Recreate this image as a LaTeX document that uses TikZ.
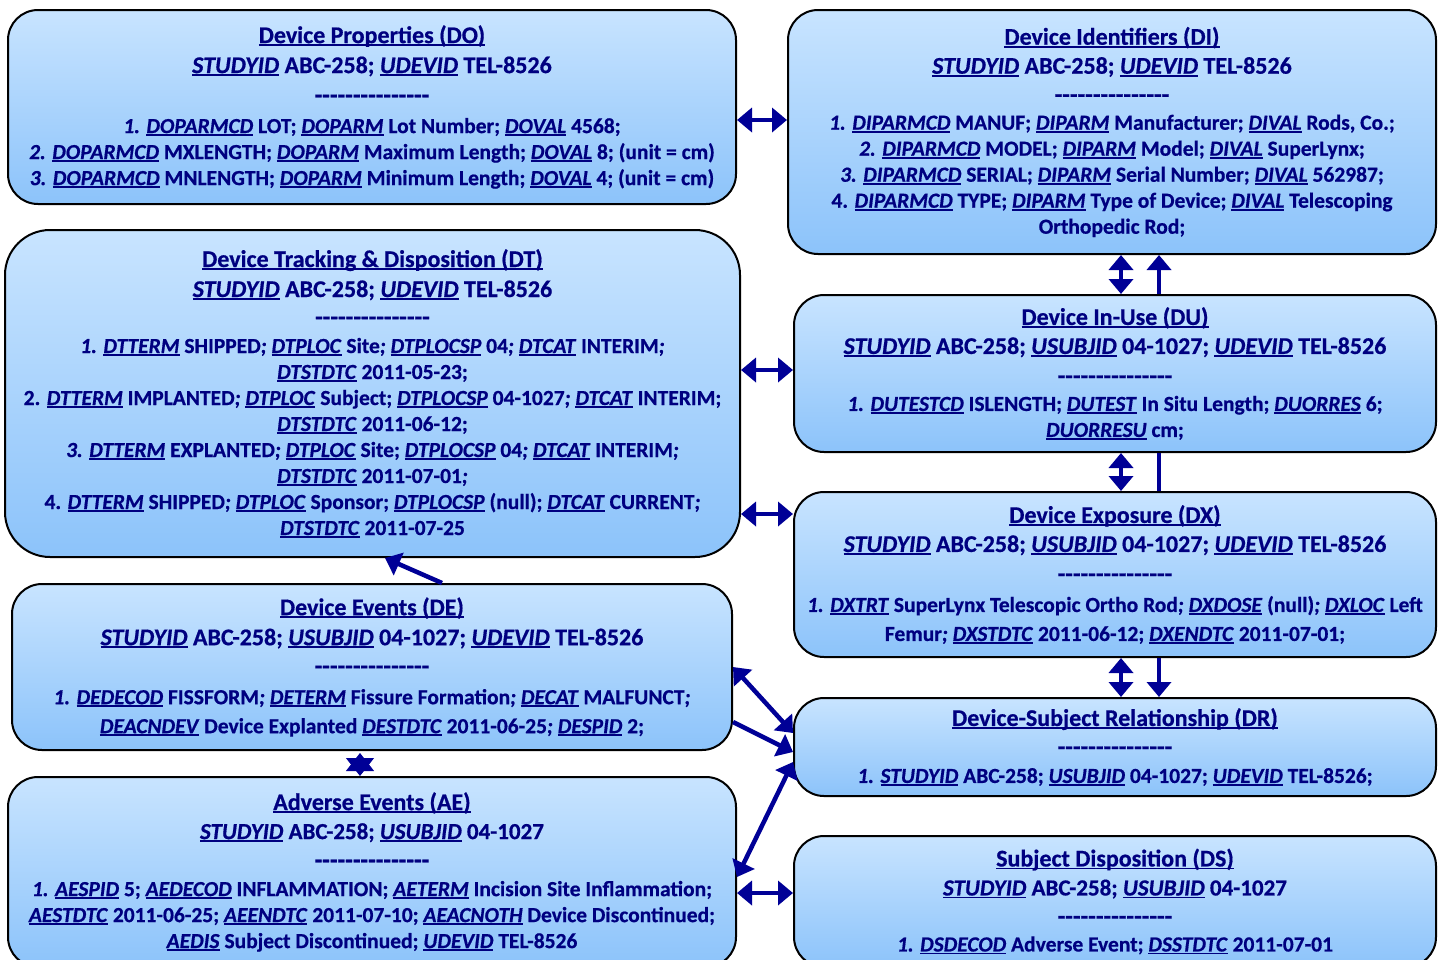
\documentclass[tikz,border=0pt]{standalone}
\usepackage{fontspec}
\setmainfont{Carlito}[BoldFeatures={FakeBold=0.6},BoldItalicFeatures={FakeBold=0.6}]
\usepackage{xcolor}
\usepackage{tikz}
\usetikzlibrary{arrows.meta}

\definecolor{tabtext}{RGB}{0,0,128}
\definecolor{linkblue}{RGB}{0,0,150}
\definecolor{boxtop}{RGB}{200,228,255}
\definecolor{boxbot}{RGB}{140,195,250}

% underlined field names, head lines and the dashed separator row
\newcommand{\ulfld}[1]{\setbox0\hbox{#1}\rlap{\rule[-2.8pt]{\wd0}{1.7pt}}\box0\relax}
\newcommand{\fld}[1]{\ulfld{\textit{#1}}}
\newcommand{\inum}[1]{{\itshape #1}}
\newcommand{\headln}[1]{{\fontsize{24}{26}\selectfont #1}}
\newcommand{\keyln}[1]{{\fontsize{23}{26}\selectfont #1}}
\newcommand{\dashrow}{{\fontsize{25}{26}\selectfont\foreach \dn in {1,...,15}{\hbox{-}}}}

\begin{document}
\begin{tikzpicture}[
    x=1pt, y=-1pt,
    font=\fontsize{21.5}{26}\selectfont\bfseries,
    tablebox/.style={draw=black, line width=2pt, rounded corners=30pt,
                   top color=boxtop, bottom color=boxbot, text=tabtext,
                   align=center, inner sep=0pt},
    link/.style={draw=linkblue, line width=4.5pt,
                 -{Triangle[length=15pt,width=24pt]}},
    bilink/.style={link, {Triangle[length=15pt,width=24pt]}-{Triangle[length=15pt,width=24pt]}},
    plain/.style={draw=linkblue, line width=4.5pt},
  ]
  \useasboundingbox (0,0) rectangle (1440,959);

  % Left column
  \node[tablebox, minimum width=728pt, minimum height=194pt] (do) at (372,107)
    {\headln{\ulfld{Device Properties (DO)}}\\[4pt]
     \headln{\fld{STUDYID} ABC-258; \fld{UDEVID} TEL-8526}\\[4pt]
     \dashrow\\[4pt]
     \inum{1.} \fld{DOPARMCD} LOT; \fld{DOPARM} Lot Number; \fld{DOVAL} 4568;\\
     \inum{2.} \fld{DOPARMCD} MXLENGTH; \fld{DOPARM} Maximum Length; \fld{DOVAL} 8; (unit = cm)\\
     \inum{3.} \fld{DOPARMCD} MNLENGTH; \fld{DOPARM} Minimum Length; \fld{DOVAL} 4; (unit = cm)};

  \node[tablebox, rounded corners=45pt, minimum width=735pt, minimum height=327pt] (dt) at (372.5,393.5)
    {\headln{\ulfld{Device Tracking \& Disposition (DT)}}\\[4pt]
     \headln{\fld{STUDYID} ABC-258; \fld{UDEVID} TEL-8526}\\[2pt]
     \dashrow\\[2pt]
     \inum{1.} \fld{DTTERM} SHIPPED\inum{;} \fld{DTPLOC} Site\inum{;} \fld{DTPLOCSP} 04\inum{;} \fld{DTCAT} INTERIM\inum{;}\\
     \fld{DTSTDTC} 2011-05-23;\\
     2. \fld{DTTERM} IMPLANTED\inum{;} \fld{DTPLOC} Subject; \fld{DTPLOCSP} 04-1027\inum{;} \fld{DTCAT} INTERIM;\\
     \fld{DTSTDTC} 2011-06-12;\\
     \inum{3.} \fld{DTTERM} EXPLANTED\inum{;} \fld{DTPLOC} Site; \fld{DTPLOCSP} 04\inum{;} \fld{DTCAT} INTERIM\inum{;}\\
     \fld{DTSTDTC} 2011-07-01\inum{;}\\
     4. \fld{DTTERM} SHIPPED\inum{;} \fld{DTPLOC} Sponsor; \fld{DTPLOCSP} (null); \fld{DTCAT} CURRENT\inum{;}\\
     \fld{DTSTDTC} 2011-07-25};

  \node[tablebox, minimum width=720pt, minimum height=166pt] (de) at (372,667)
    {\headln{\ulfld{Device Events (DE)}}\\[4pt]
     \headln{\fld{STUDYID} ABC-258; \fld{USUBJID} 04-1027; \fld{UDEVID} TEL-8526}\\[3pt]
     \dashrow\\[4pt]
     \inum{1.} \fld{DEDECOD} FISSFORM\inum{;} \fld{DETERM} Fissure Formation\inum{;} \fld{DECAT} MALFUNCT\inum{;}\\[3pt]
     \fld{DEACNDEV} Device Explanted \fld{DESTDTC} 2011-06-25\inum{;} \fld{DESPID} 2;};

  \node[tablebox, minimum width=728pt, minimum height=190pt] (ae) at (372,872)
    {\headln{\ulfld{Adverse Events (AE)}}\\[3pt]
     \keyln{\fld{STUDYID} ABC-258; \fld{USUBJID} 04-1027}\\[3pt]
     \dashrow\\[2pt]
     \inum{1.} \fld{AESPID} 5; \fld{AEDECOD} INFLAMMATION; \fld{AETERM} Incision Site Inflammation;\\
     \fld{AESTDTC} 2011-06-25; \fld{AEENDTC} 2011-07-10; \fld{AEACNOTH} Device Discontinued;\\
     \fld{AEDIS} Subject Discontinued; \fld{UDEVID} TEL-8526};

  % Right column
  \node[tablebox, minimum width=648pt, minimum height=244pt] (di) at (1112,132)
    {\headln{\ulfld{Device Identifiers (DI)}}\\[3pt]
     \headln{\fld{STUDYID} ABC-258; \fld{UDEVID} TEL-8526}\\[3pt]
     \dashrow\\[1pt]
     \inum{1.} \fld{DIPARMCD} MANUF; \fld{DIPARM} Manufacturer; \fld{DIVAL} Rods, Co.;\\
     \inum{2.} \fld{DIPARMCD} MODEL; \fld{DIPARM} Model; \fld{DIVAL} SuperLynx;\\
     \inum{3.} \fld{DIPARMCD} SERIAL; \fld{DIPARM} Serial Number; \fld{DIVAL} 562987;\\
     4. \fld{DIPARMCD} TYPE; \fld{DIPARM} Type of Device; \fld{DIVAL} Telescoping\\
     Orthopedic Rod;};

  \node[tablebox, minimum width=642pt, minimum height=157pt] (du) at (1115,373.5)
    {\headln{\ulfld{Device In-Use (DU)}}\\[3pt]
     \headln{\fld{STUDYID} ABC-258; \fld{USUBJID} 04-1027; \fld{UDEVID} TEL-8526}\\[4pt]
     \dashrow\\[1pt]
     \inum{1.} \fld{DUTESTCD} ISLENGTH; \fld{DUTEST} In Situ Length; \fld{DUORRES} 6;\\
     \fld{DUORRESU} cm;};

  \node[tablebox, minimum width=642pt, minimum height=165pt] (dx) at (1115,574.5)
    {\headln{\ulfld{Device Exposure (DX)}}\\[3pt]
     \headln{\fld{STUDYID} ABC-258; \fld{USUBJID} 04-1027; \fld{UDEVID} TEL-8526}\\[4pt]
     \dashrow\\[4pt]
     \inum{1.} \fld{DXTRT} SuperLynx Telescopic Ortho Rod\inum{;} \fld{DXDOSE} (null)\inum{;} \fld{DXLOC} Left\\[3pt]
     Femur\inum{;} \fld{DXSTDTC} 2011-06-12; \fld{DXENDTC} 2011-07-01;};

  \node[tablebox, minimum width=642pt, minimum height=98pt] (dr) at (1115,747)
    {\headln{\ulfld{Device-Subject Relationship (DR)}}\\[3pt]
     \dashrow\\[2pt]
     \inum{1.} \fld{STUDYID} ABC-258; \fld{USUBJID} 04-1027; \fld{UDEVID} TEL-8526;};

  \node[tablebox, minimum width=642pt, minimum height=131pt] (ds) at (1115,901.5)
    {\headln{\ulfld{Subject Disposition (DS)}}\\[3pt]
     \keyln{\fld{STUDYID} ABC-258; \fld{USUBJID} 04-1027}\\[3pt]
     \dashrow\\[1pt]
     \inum{1.} \fld{DSDECOD} Adverse Event; \fld{DSSTDTC} 2011-07-01};

  % Horizontal links
  \draw[bilink] ([yshift=-13pt]do.east) -- ([yshift=12pt]di.west);
  \draw[bilink] ([yshift=23.5pt]dt.east) -- ([yshift=3.5pt]du.west);
  \draw[bilink] ([yshift=-120.5pt]dt.east) -- ([yshift=60.5pt]dx.west);
  \draw[bilink] ([yshift=-21pt]ae.east) -- ([yshift=8.5pt]ds.west);

  % Vertical links, right column
  \draw[bilink] ([xshift=9pt]di.south) -- ([xshift=6pt]du.north);
  \draw[link] ([xshift=44pt]du.north) -- ([xshift=47pt]di.south);
  \draw[bilink] ([xshift=6pt]du.south) -- ([xshift=6pt]dx.north);
  \draw[plain] ([xshift=44pt]du.south) -- ([xshift=44pt]dx.north);
  \draw[bilink] ([xshift=6pt]dx.south) -- ([xshift=6pt]dr.north);
  \draw[link] ([xshift=44pt]dx.south) -- ([xshift=44pt]dr.north);

  % Events
  \draw[link] ([xshift=70pt]de.north) -- ([xshift=12.5pt]dt.south);
  \draw[draw=linkblue, line width=1pt,
        {Triangle[length=18pt,width=28pt]}-{Triangle[length=18pt,width=28pt]}]
    ([xshift=-12pt,yshift=-2pt]de.south) -- ([xshift=-12pt]ae.north);

  % Links into DR
  \draw[bilink] (de.east) -- ([yshift=14pt]dr.west);
  \draw[link] ([yshift=-55pt]de.east) -- ([yshift=-5pt]dr.west);
  \draw[bilink] ([yshift=-5pt]ae.east) -- ([yshift=-15pt]dr.west);

\end{tikzpicture}
\end{document}
